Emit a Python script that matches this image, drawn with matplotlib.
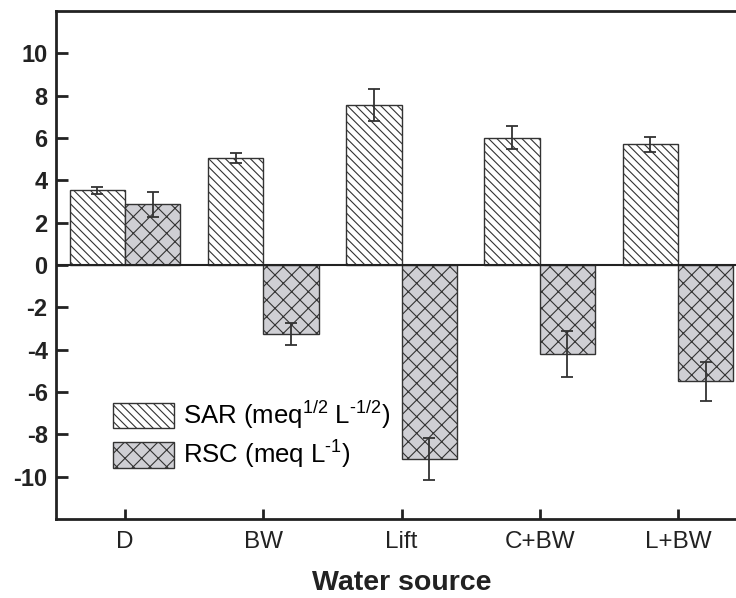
import matplotlib
matplotlib.use("Agg")
import matplotlib.pyplot as plt
import numpy as np

categories = ['D', 'BW', 'Lift', 'C+BW', 'L+BW']
sar = [3.53, 5.05, 7.56, 6.01, 5.70]
sar_err = [0.17, 0.22, 0.74, 0.54, 0.36]
rsc = [2.86, -3.25, -9.15, -4.20, -5.50]
rsc_err = [0.60, 0.51, 0.99, 1.08, 0.93]
yticks = [-10, -8, -6, -4, -2, 0, 2, 4, 6, 8, 10]

plt.rcParams['font.family'] = ['Liberation Sans', 'DejaVu Sans']
plt.rcParams['mathtext.default'] = 'regular'
plt.rcParams['axes.unicode_minus'] = False
plt.rcParams['hatch.linewidth'] = 0.8
plt.rcParams['hatch.color'] = '#333333'

fig = plt.figure(figsize=(7.36, 5.98), dpi=100)
ax = fig.add_axes([56/736, 1 - 519/598, 691/736, 508/598])

x = np.arange(len(categories))
w = 0.4
ax.bar(x - w/2, sar, w, color='white', edgecolor='#333333', linewidth=1.0,
       hatch='\\\\\\\\', label='SAR (meq$^{1/2}$ L$^{\u2010 1/2}$)', zorder=2)
ax.bar(x + w/2, rsc, w, color='#cfcfd4', edgecolor='#333333', linewidth=1.0,
       hatch='xx', label='RSC (meq L$^{\u2010 1}$)', zorder=2)
ax.errorbar(x - w/2, sar, yerr=sar_err, fmt='none', ecolor='#333333',
            elinewidth=1.3, capsize=4, capthick=1.3, zorder=3)
ax.errorbar(x + w/2, rsc, yerr=rsc_err, fmt='none', ecolor='#333333',
            elinewidth=1.3, capsize=4, capthick=1.3, zorder=3)
ax.axhline(0, color='#222222', linewidth=1.5, zorder=4)

ax.set_xlim(-0.5, len(categories) - 0.5)
ax.set_ylim(-12, 12)
ax.set_yticks(yticks)
ax.set_yticklabels([str(v) for v in yticks], fontweight='bold', fontsize=17)
ax.set_xticks(x)
ax.set_xticklabels(categories, fontsize=17.5)
ax.tick_params(axis='y', direction='in', length=8.5, width=2, pad=6, colors='#222222')
ax.tick_params(axis='x', direction='in', length=7, width=2, pad=9, colors='#222222')
for s in ax.spines.values():
    s.set_linewidth(2)
    s.set_color('#222222')

ax.set_xlabel('Water source', fontsize=20.5, fontweight='bold', labelpad=12, color='#222222')

leg = ax.legend(loc='upper left', bbox_to_anchor=(0.083, 0.236), frameon=False,
                fontsize=18.5, handlelength=2.35, handleheight=1.15, labelspacing=0.3,
                handletextpad=0.35, borderpad=0, borderaxespad=0)

fig.savefig('out.png', dpi=100, facecolor='white')
